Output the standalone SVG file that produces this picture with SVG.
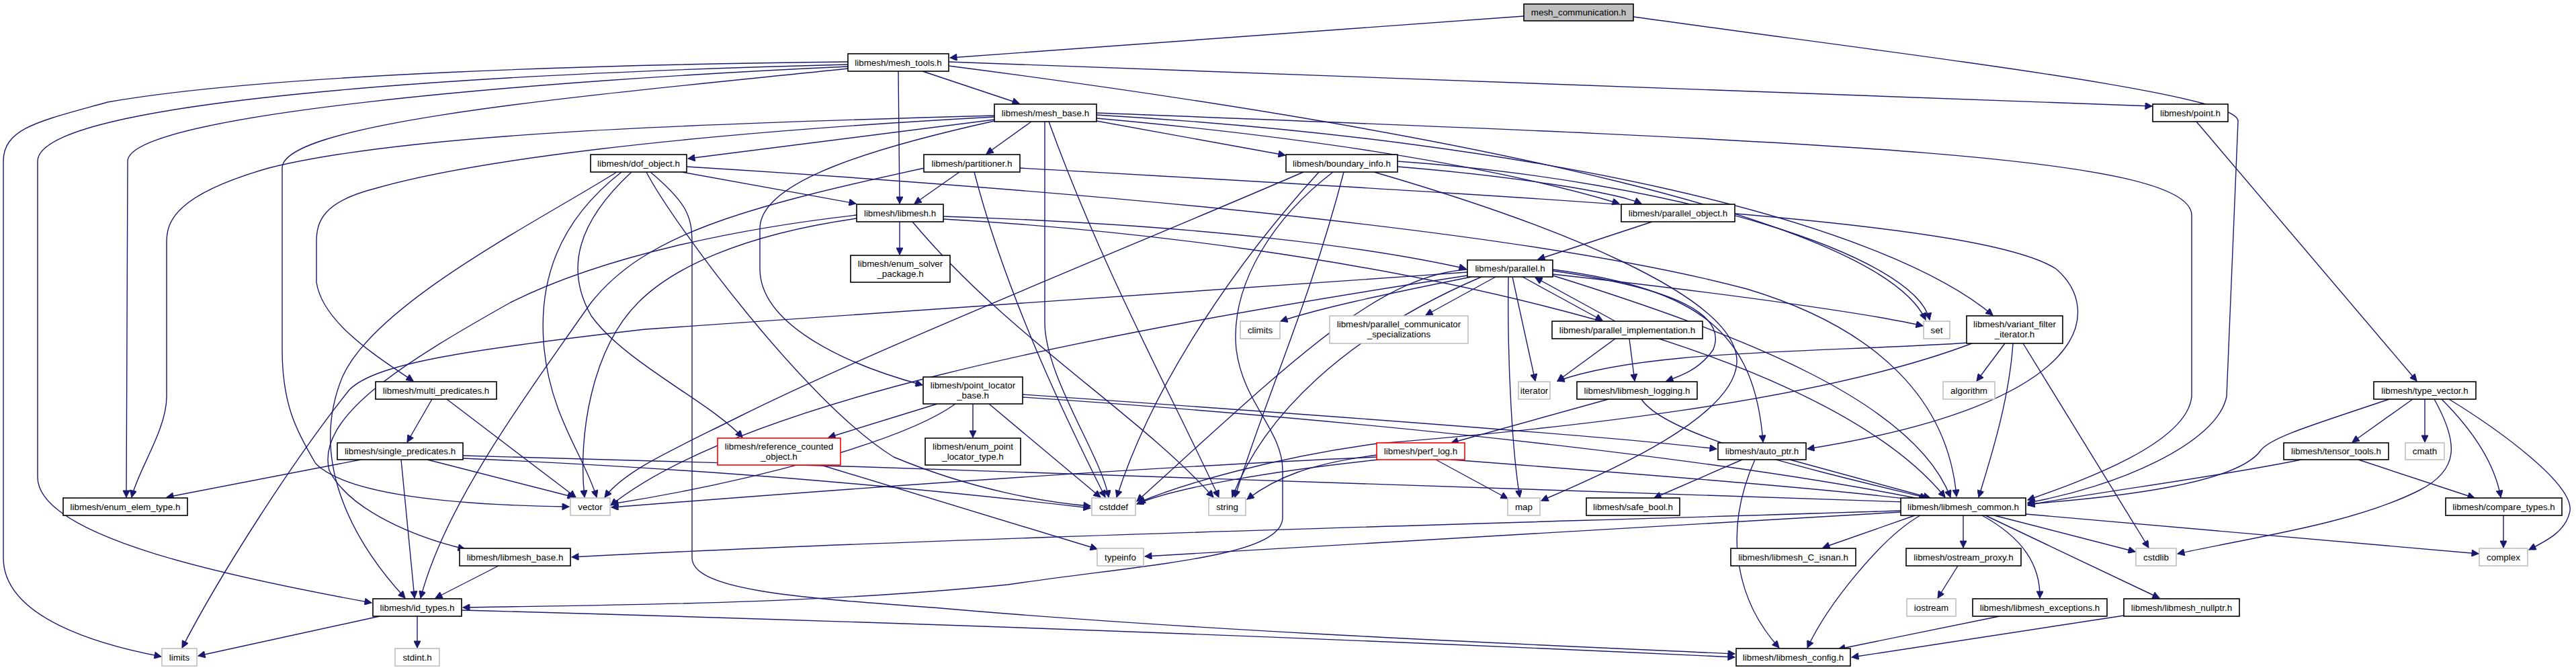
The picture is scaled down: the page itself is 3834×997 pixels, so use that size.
<svg xmlns="http://www.w3.org/2000/svg" width="3834" height="997" viewBox="0 0 3834 997">
<style>
rect{fill:#ffffff;stroke-width:1.6}
.n{stroke:#000000}
.g{stroke:#bfbfbf}
.r{stroke:#ff0000}
.root{fill:#bfbfbf;stroke:#000000}
text{font-family:"Liberation Sans",Arial,Helvetica,sans-serif;font-size:13.4px;fill:#000000;text-anchor:middle}
#edges path{fill:none;stroke:#191970;stroke-width:1.4;marker-end:url(#arr)}
</style>
<defs>
<marker id="arr" viewBox="0 0 10 10" refX="10" refY="5" markerWidth="14" markerHeight="10" markerUnits="userSpaceOnUse" orient="auto">
<path d="M0,0 L10,5 L0,10 z" fill="#191970" stroke="#191970"/>
</marker>
</defs>
<rect x="0" y="0" width="3834" height="997" style="fill:#ffffff;stroke:none"/>
<g id="edges">
<path d="M2268,24 L1414,86"/>
<path d="M2431,25 C2900,90 3330,140 3331,180 L3314,590 C3300,660 3150,725 3018,748"/>
<path d="M1337,106 L1339,303"/>
<path d="M1262,92 C900,96 400,110 160,152 C60,180 5,190 5,240 L5,830 C5,920 150,960 240,977"/>
<path d="M1262,96 C700,110 56,150 56,240 L56,710 C56,800 350,860 553,897"/>
<path d="M1262,99 C800,120 190,170 190,240 L188,740"/>
<path d="M1373,106 L1517,154"/>
<path d="M1412,92 L3203,158"/>
<path d="M1262,102 C900,140 420,180 420,250 L420,520 C420,600 440,640 470,690 C520,740 700,752 847,754"/>
<path d="M1412,98 C2200,200 2800,330 2866,476"/>
<path d="M1480,178 L1024,236"/>
<path d="M1535,181 L1468,229"/>
<path d="M1632,180 L1913,231"/>
<path d="M1480,172 C1000,185 600,200 400,250 C260,290 248,330 248,360 L248,590 C248,640 205,700 196,740"/>
<path d="M1480,174 C1000,200 700,240 560,280 C480,300 471,330 471,360 L471,420 C480,480 560,530 615,567"/>
<path d="M1480,180 C1300,220 1131,270 1131,340 L1131,400 C1131,480 1250,540 1373,573"/>
<path d="M1555,181 L1555,480 C1555,560 1640,680 1650,740"/>
<path d="M1561,181 C1640,400 1750,600 1814,740"/>
<path d="M1632,168 C2700,210 3260,230 3262,320 L3262,590 C3255,660 3100,715 3018,744"/>
<path d="M1632,176 C1900,200 2200,240 2410,303"/>
<path d="M1632,171 C2300,210 2800,330 2966,469"/>
<path d="M3269,181 L3597,567"/>
<path d="M1015,256 L1274,303"/>
<path d="M918,256 C800,330 560,450 510,560 C460,680 520,800 603,890"/>
<path d="M940,256 C860,330 840,400 880,470 C930,540 1060,600 1105,651"/>
<path d="M925,256 C830,330 800,420 810,520 C820,620 870,680 888,740"/>
<path d="M962,256 C1000,330 1200,600 1330,680 C1450,730 1560,748 1623,753"/>
<path d="M968,256 C1020,300 1030,320 1030,360 L1030,830 C1030,880 1200,890 1400,905 C1800,940 2300,960 2582,973"/>
<path d="M1022,248 C1700,290 2300,350 2600,430 C2800,490 2900,600 2912,739"/>
<path d="M1428,256 L1361,303"/>
<path d="M1376,250 C1100,310 960,350 880,450 C760,620 660,760 626,890"/>
<path d="M1450,256 C1500,450 1600,650 1645,740"/>
<path d="M1518,250 C2400,300 2950,330 3060,400 C3130,460 3120,600 2690,668"/>
<path d="M2080,248 C2250,262 2400,285 2443,303"/>
<path d="M2080,240 C2500,270 2850,380 2872,476"/>
<path d="M1984,256 C1900,320 1830,420 1840,520 C1850,600 1909,640 1909,700 L1909,770 C1909,830 1700,840 1500,870 C1200,900 900,900 689,904"/>
<path d="M1940,256 C1700,360 1300,520 1100,620 C1000,670 930,700 900,740"/>
<path d="M1963,256 C1850,380 1720,560 1662,740"/>
<path d="M2000,256 C1950,450 1880,600 1838,740"/>
<path d="M2045,256 C2300,330 2590,440 2585,540 C2580,620 2400,700 2294,745"/>
<path d="M1339,330 L1339,379"/>
<path d="M1275,320 C1100,340 900,380 760,450 C600,540 470,620 490,700 C520,760 620,800 692,817"/>
<path d="M1275,325 C1100,350 1000,400 950,450 C880,520 860,650 870,740"/>
<path d="M1358,330 C1500,500 1700,620 1806,740"/>
<path d="M1404,322 C1800,335 2050,370 2182,400"/>
<path d="M1404,326 C2000,360 2700,500 2895,740"/>
<path d="M2459,330 L2289,386"/>
<path d="M2190,412 C2050,440 1960,460 1906,478"/>
<path d="M2226,412 L2122,469"/>
<path d="M2251,412 L2285,567"/>
<path d="M2245,412 C2243,550 2252,680 2262,740"/>
<path d="M2266,412 L2385,477"/>
<path d="M2404,478 L2285,413"/>
<path d="M2311,403 C2500,430 2570,470 2550,520 C2530,550 2500,560 2480,567"/>
<path d="M2311,408 C2600,440 2800,470 2862,485"/>
<path d="M2311,401 C2532,430 2612,497 2624,658"/>
<path d="M2311,410 C2600,500 2850,600 2903,740"/>
<path d="M2184,405 C1700,440 1200,470 960,490 C700,520 560,540 520,580 C440,680 330,850 271,964"/>
<path d="M2205,412 C2000,500 1880,620 1834,740"/>
<path d="M2184,401 C2050,410 1920,540 1692,746"/>
<path d="M2184,410 C1600,500 1100,600 909,752"/>
<path d="M2404,504 L2318,567"/>
<path d="M2425,504 L2433,567"/>
<path d="M2394,594 L2160,659"/>
<path d="M2443,594 C2480,650 2700,700 2868,741"/>
<path d="M2137,684 L2244,742"/>
<path d="M2160,684 C2500,710 2750,730 2866,746"/>
<path d="M2049,677 C1950,690 1900,710 1856,743"/>
<path d="M2052,684 C1900,700 1750,725 1692,750"/>
<path d="M2049,680 C1600,700 1100,740 910,755"/>
<path d="M2593,684 L2462,741"/>
<path d="M2612,684 C2560,800 2590,900 2648,964"/>
<path d="M2664,684 L2873,741"/>
<path d="M1395,601 L1233,651"/>
<path d="M1448,601 L1448,651"/>
<path d="M1422,601 C1340,660 1100,720 910,750"/>
<path d="M1472,601 L1638,740"/>
<path d="M1522,587 C2000,620 2400,650 2555,668"/>
<path d="M1522,591 C2100,630 2600,690 2866,744"/>
<path d="M1222,692 L1633,817"/>
<path d="M643,594 L606,658"/>
<path d="M665,594 L857,740"/>
<path d="M537,684 L248,740"/>
<path d="M636,684 L855,740"/>
<path d="M597,684 L617,890"/>
<path d="M689,678 C1500,700 2500,730 2866,748"/>
<path d="M689,682 C1100,700 1400,730 1623,756"/>
<path d="M742,842 L648,890"/>
<path d="M565,917 L295,976"/>
<path d="M621,917 L621,964"/>
<path d="M687,908 C1500,930 2200,960 2582,978"/>
<path d="M2829,760 C2200,780 1400,800 851,829"/>
<path d="M2829,762 C2400,790 2000,810 1704,828"/>
<path d="M2850,767 L2713,815"/>
<path d="M2922,767 L2922,815"/>
<path d="M2950,767 C3010,800 3037,840 3036,890"/>
<path d="M2955,767 L3214,890"/>
<path d="M2968,767 L3178,821"/>
<path d="M3015,765 L3689,824"/>
<path d="M2858,767 C2800,800 2720,900 2690,964"/>
<path d="M2914,842 L2884,890"/>
<path d="M2976,917 L2736,966"/>
<path d="M3161,916 L2756,978"/>
<path d="M3591,594 L3501,658"/>
<path d="M3609,594 L3609,658"/>
<path d="M3556,594 C3450,630 3380,650 3365,670 C3330,720 3150,740 3018,750"/>
<path d="M3623,594 C3660,660 3660,700 3600,730 C3500,780 3350,800 3241,824"/>
<path d="M3634,594 C3690,650 3715,700 3722,740"/>
<path d="M3645,594 C3720,640 3830,720 3825,760 C3820,790 3790,805 3764,818"/>
<path d="M3425,684 C3300,710 3100,735 3018,752"/>
<path d="M3510,684 L3683,741"/>
<path d="M3726,767 L3726,815"/>
<path d="M2984,511 L2942,567"/>
<path d="M2996,511 C2990,600 2960,690 2945,740"/>
<path d="M3011,511 L3198,815"/>
<path d="M2931,510 C2700,525 2450,520 2318,567"/>
<path d="M2935,511 C2700,600 2300,640 2050,660 C1900,680 1760,720 1694,748"/>
</g>
<g id="node-mesh_communication"><rect class="root" x="2268" y="6" width="163" height="25"/><text x="2349.5" y="23">mesh_communication.h</text></g>
<g id="node-mesh_tools"><rect class="n" x="1262" y="80" width="150" height="26"/><text x="1337" y="97.5">libmesh/mesh_tools.h</text></g>
<g id="node-mesh_base"><rect class="n" x="1480" y="155" width="152" height="26"/><text x="1556" y="172.5">libmesh/mesh_base.h</text></g>
<g id="node-point"><rect class="n" x="3204" y="155" width="112" height="26"/><text x="3260" y="172.5">libmesh/point.h</text></g>
<g id="node-dof_object"><rect class="n" x="879" y="230" width="143" height="26"/><text x="950.5" y="247.5">libmesh/dof_object.h</text></g>
<g id="node-partitioner"><rect class="n" x="1375" y="230" width="143" height="26"/><text x="1446.5" y="247.5">libmesh/partitioner.h</text></g>
<g id="node-boundary_info"><rect class="n" x="1914" y="230" width="166" height="26"/><text x="1997" y="247.5">libmesh/boundary_info.h</text></g>
<g id="node-libmesh"><rect class="n" x="1275" y="304" width="129" height="26"/><text x="1339.5" y="321.5">libmesh/libmesh.h</text></g>
<g id="node-parallel_object"><rect class="n" x="2413" y="304" width="169" height="26"/><text x="2497.5" y="321.5">libmesh/parallel_object.h</text></g>
<g id="node-enum_solver_package"><rect class="n" x="1266" y="380" width="148" height="40"/><text x="1340" y="396.5">libmesh/enum_solver</text><text x="1340" y="411.5">_package.h</text></g>
<g id="node-parallel"><rect class="n" x="2184" y="387" width="127" height="25"/><text x="2247.5" y="404">libmesh/parallel.h</text></g>
<g id="node-climits"><rect class="g" x="1846" y="478" width="59" height="26"/><text x="1875.5" y="495.5">climits</text></g>
<g id="node-parallel_communicator_specializations"><rect class="g" x="1979" y="470" width="206" height="41"/><text x="2082" y="486.5">libmesh/parallel_communicator</text><text x="2082" y="501.5">_specializations</text></g>
<g id="node-parallel_implementation"><rect class="n" x="2310" y="478" width="224" height="26"/><text x="2422" y="495.5">libmesh/parallel_implementation.h</text></g>
<g id="node-set"><rect class="g" x="2863" y="478" width="39" height="26"/><text x="2882.5" y="495.5">set</text></g>
<g id="node-variant_filter_iterator"><rect class="n" x="2927" y="470" width="143" height="41"/><text x="2998.5" y="486.5">libmesh/variant_filter</text><text x="2998.5" y="501.5">_iterator.h</text></g>
<g id="node-algorithm"><rect class="g" x="2892" y="568" width="77" height="26"/><text x="2930.5" y="585.5">algorithm</text></g>
<g id="node-type_vector"><rect class="n" x="3533" y="568" width="152" height="26"/><text x="3609" y="585.5">libmesh/type_vector.h</text></g>
<g id="node-iterator"><rect class="g" x="2260" y="568" width="47" height="26"/><text x="2283.5" y="585.5">iterator</text></g>
<g id="node-libmesh_logging"><rect class="n" x="2347" y="568" width="179" height="26"/><text x="2436.5" y="585.5">libmesh/libmesh_logging.h</text></g>
<g id="node-multi_predicates"><rect class="n" x="559" y="568" width="180" height="26"/><text x="649" y="585.5">libmesh/multi_predicates.h</text></g>
<g id="node-point_locator_base"><rect class="n" x="1374" y="561" width="148" height="40"/><text x="1448" y="577.5">libmesh/point_locator</text><text x="1448" y="592.5">_base.h</text></g>
<g id="node-single_predicates"><rect class="n" x="502" y="659" width="187" height="25"/><text x="595.5" y="676">libmesh/single_predicates.h</text></g>
<g id="node-reference_counted_object"><rect class="r" x="1068" y="652" width="183" height="40"/><text x="1159.5" y="668.5">libmesh/reference_counted</text><text x="1159.5" y="683.5">_object.h</text></g>
<g id="node-enum_point_locator_type"><rect class="n" x="1377" y="652" width="142" height="40"/><text x="1448" y="668.5">libmesh/enum_point</text><text x="1448" y="683.5">_locator_type.h</text></g>
<g id="node-perf_log"><rect class="r" x="2049" y="659" width="131" height="25"/><text x="2114.5" y="676">libmesh/perf_log.h</text></g>
<g id="node-auto_ptr"><rect class="n" x="2557" y="659" width="131" height="25"/><text x="2622.5" y="676">libmesh/auto_ptr.h</text></g>
<g id="node-tensor_tools"><rect class="n" x="3399" y="659" width="156" height="25"/><text x="3477" y="676">libmesh/tensor_tools.h</text></g>
<g id="node-cmath"><rect class="g" x="3580" y="659" width="58" height="25"/><text x="3609" y="676">cmath</text></g>
<g id="node-enum_elem_type"><rect class="n" x="94" y="741" width="185" height="26"/><text x="186.5" y="758.5">libmesh/enum_elem_type.h</text></g>
<g id="node-vector"><rect class="g" x="849" y="741" width="59" height="26"/><text x="878.5" y="758.5">vector</text></g>
<g id="node-cstddef"><rect class="g" x="1625" y="741" width="65" height="26"/><text x="1657.5" y="758.5">cstddef</text></g>
<g id="node-string"><rect class="g" x="1799" y="741" width="55" height="26"/><text x="1826.5" y="758.5">string</text></g>
<g id="node-map"><rect class="g" x="2244" y="741" width="48" height="26"/><text x="2268" y="758.5">map</text></g>
<g id="node-safe_bool"><rect class="n" x="2361" y="741" width="139" height="26"/><text x="2430.5" y="758.5">libmesh/safe_bool.h</text></g>
<g id="node-libmesh_common"><rect class="n" x="2829" y="741" width="186" height="26"/><text x="2922" y="758.5">libmesh/libmesh_common.h</text></g>
<g id="node-compare_types"><rect class="n" x="3640" y="741" width="173" height="26"/><text x="3726.5" y="758.5">libmesh/compare_types.h</text></g>
<g id="node-libmesh_base"><rect class="n" x="684" y="816" width="165" height="26"/><text x="766.5" y="833.5">libmesh/libmesh_base.h</text></g>
<g id="node-typeinfo"><rect class="g" x="1633" y="816" width="69" height="26"/><text x="1667.5" y="833.5">typeinfo</text></g>
<g id="node-libmesh_C_isnan"><rect class="n" x="2576" y="816" width="186" height="26"/><text x="2669" y="833.5">libmesh/libmesh_C_isnan.h</text></g>
<g id="node-ostream_proxy"><rect class="n" x="2837" y="816" width="171" height="26"/><text x="2922.5" y="833.5">libmesh/ostream_proxy.h</text></g>
<g id="node-cstdlib"><rect class="g" x="3179" y="816" width="60" height="26"/><text x="3209" y="833.5">cstdlib</text></g>
<g id="node-complex"><rect class="g" x="3690" y="816" width="72" height="26"/><text x="3726" y="833.5">complex</text></g>
<g id="node-id_types"><rect class="n" x="555" y="891" width="132" height="26"/><text x="621" y="908.5">libmesh/id_types.h</text></g>
<g id="node-iostream"><rect class="g" x="2838" y="891" width="73" height="26"/><text x="2874.5" y="908.5">iostream</text></g>
<g id="node-libmesh_exceptions"><rect class="n" x="2936" y="891" width="200" height="26"/><text x="3036" y="908.5">libmesh/libmesh_exceptions.h</text></g>
<g id="node-libmesh_nullptr"><rect class="n" x="3161" y="891" width="172" height="26"/><text x="3247" y="908.5">libmesh/libmesh_nullptr.h</text></g>
<g id="node-limits"><rect class="g" x="241" y="965" width="52" height="26"/><text x="267" y="982.5">limits</text></g>
<g id="node-stdint"><rect class="g" x="588" y="965" width="66" height="26"/><text x="621" y="982.5">stdint.h</text></g>
<g id="node-libmesh_config"><rect class="n" x="2584" y="965" width="170" height="26"/><text x="2669" y="982.5">libmesh/libmesh_config.h</text></g>
</svg>
